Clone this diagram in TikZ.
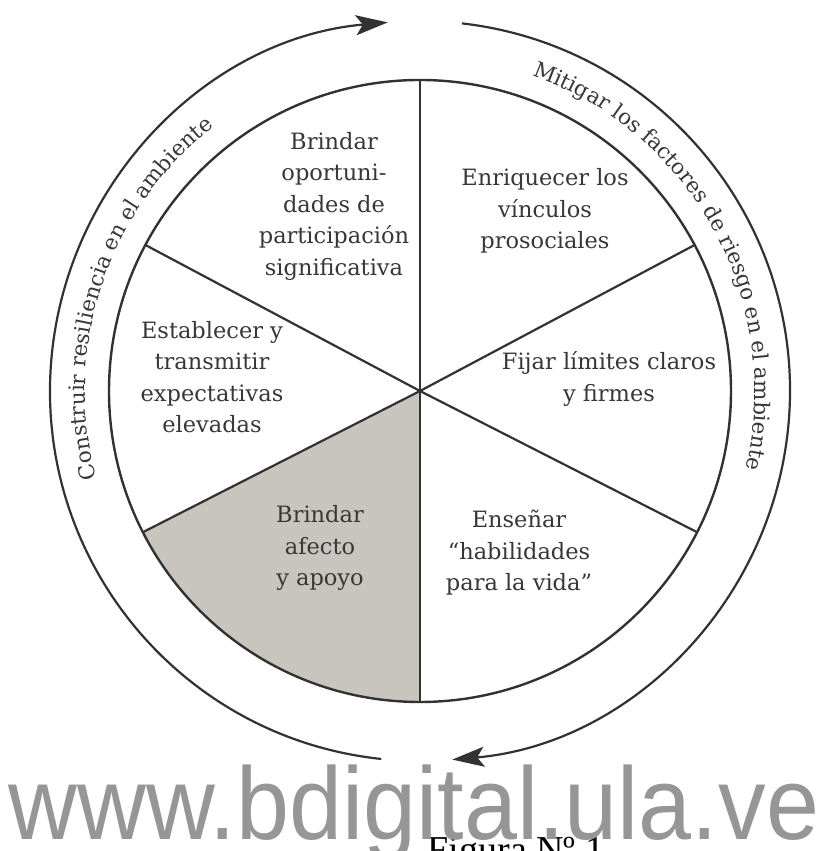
\documentclass[tikz,border=0pt]{standalone}
\usepackage{fontspec}
\usepackage{xcolor}
\setmainfont{DejaVu Serif}
\newfontfamily\wmfont{Liberation Sans}
\newfontfamily\capfont{Liberation Serif}
\usetikzlibrary{decorations.text,arrows.meta}
\definecolor{linegray}{RGB}{50,50,50}
\definecolor{textgray}{RGB}{55,55,55}
\definecolor{shadegray}{RGB}{200,197,190}
\definecolor{wmgray}{RGB}{150,150,150}

\begin{document}
\begin{tikzpicture}[
	x=1pt, y=1pt,
	sector/.style={align=center, text=textgray, font=\fontsize{22.5}{31.5}\selectfont},
	ring/.style={draw=linegray, line width=2.4pt},
	spoke/.style={draw=linegray, line width=2.2pt},
	cycle/.style={draw=linegray, line width=2.2pt, -{Stealth[length=32pt, width=20pt, inset=7pt]}},
	ringtext/.style={decorate, decoration={text along path, text align=center, text={|\fontsize{21.5}{21.5}\selectfont\color{textgray}|#1}}},
]
\useasboundingbox (0,0) rectangle (828,851);
\clip (0,0) rectangle (828,851);
\begin{scope}[shift={(420,460)}]
\coordinate (c) at (0,0);
\fill[shadegray] (c) -- (207:311pt) arc[start angle=207, end angle=270, radius=311pt] -- cycle;
\draw[ring] (c) circle (311pt);
\draw[spoke] (c) -- (90:311pt);
\draw[spoke] (c) -- (270:311pt);
\draw[spoke] (c) -- (152:311pt);
\draw[spoke] (c) -- (28:311pt);
\draw[spoke] (c) -- (207:311pt);
\draw[spoke] (c) -- (333:311pt);

\node[sector] (oportunidades) at (-86,185) {Brindar\\oportuni-\\dades de\\participación\\significativa};
\node[sector] (vinculos) at (125,180) {Enriquecer los\\vínculos\\prosociales};
\node[sector] (expectativas) at (-208,14) {Establecer y\\transmitir\\expectativas\\elevadas};
\node[sector] (limites) at (189,12) {Fijar límites claros\\y firmes};
\node[sector] (afecto) at (-100,-157) {Brindar\\afecto\\y apoyo};
\node[sector] (habilidades) at (99,-162) {Enseñar\\“habilidades\\para la vida”};

\draw[cycle] (264:370pt) arc[start angle=264, end angle=95, radius=370pt];
\draw[cycle] (83.5:370pt) arc[start angle=83.5, end angle=-85, radius=370pt];

\path[ringtext={Construir resiliencia en el ambiente}] (210:335pt) arc[start angle=210, end angle=113, radius=335pt];
\path[ringtext={Mitigar los factores de riesgo en el ambiente}] (85:335pt) arc[start angle=85, end angle=-28, radius=335pt];
\end{scope}

\node[anchor=base, font=\capfont\fontsize{38}{38}\selectfont] (figura) at (516,-12) {Figura Nº 1};
\node[anchor=base, font=\wmfont\fontsize{103}{103}\selectfont, text=wmgray, xscale=0.925] (marca) at (414,12) {www.bdigital.ula.ve};
\end{tikzpicture}
\end{document}
